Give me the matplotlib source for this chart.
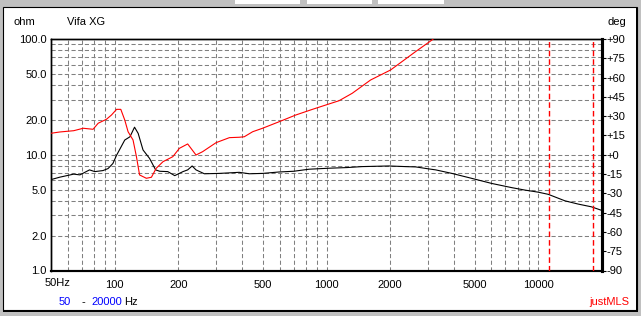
import matplotlib
matplotlib.use("Agg")
import matplotlib.pyplot as plt
from matplotlib.patches import Rectangle
from matplotlib.transforms import ScaledTranslation
from matplotlib.ticker import FixedLocator, NullFormatter, NullLocator

# impedance magnitude (black, left axis)
freq_z = [50, 55, 64, 68.5, 76, 80.5, 88, 93, 98, 102, 111.5, 118, 124, 129, 136,
          146, 156, 163, 178, 192, 210, 221, 232, 242, 265, 312, 387, 432, 500,
          598, 700, 827, 1028, 1250, 1470, 1970, 2360, 2640, 3035, 3280, 3910,
          4855, 6030, 7490, 8660, 10000, 11150, 13360, 15420, 17820, 20000]
ohm = [6.1, 6.4, 6.8, 6.7, 7.4, 7.15, 7.3, 7.6, 8.4, 9.9, 13.4, 14.3, 17.3, 15.3, 11.0,
       9.3, 7.4, 7.2, 7.15, 6.6, 7.15, 7.4, 8.0, 7.4, 6.85, 6.9, 7.05, 6.85, 6.9,
       7.1, 7.2, 7.5, 7.65, 7.75, 7.9, 8.0, 7.9, 7.85, 7.55, 7.4, 6.9,
       6.25, 5.65, 5.2, 4.95, 4.75, 4.55, 4.0, 3.75, 3.55, 3.3]

# phase (red, right axis)
freq_p = [50, 55, 64, 71, 79, 83.5, 91.4, 96.5, 102, 106.8, 111.5, 115.6, 122, 126.6,
          131, 141, 149, 157, 169, 188, 202, 221, 242, 260, 301, 348, 387, 409, 448,
          499, 598, 716, 858, 1028, 1146, 1323, 1614, 2007, 2630, 3184, 3400]
deg = [16.7, 17.7, 18.7, 20.6, 19.8, 24.5, 27.6, 30.9, 35.3, 35.3, 27.0, 17.9, 11.5, -1.5,
       -15.7, -18.3, -17.5, -10.5, -5.4, -1.5, 5.0, 8.4, -0.2, 2.4, 9.4, 13.3, 13.6, 14.0, 17.9,
       20.6, 25.7, 30.9, 35.3, 39.5, 42.0, 47.8, 58.1, 65.9, 80.1, 89.8, 95]

# red window markers
marker_freqs = [11270, 18150]

x_ticks = [100, 200, 500, 1000, 2000, 5000, 10000]
x_grid = [60, 70, 80, 90, 100, 200, 300, 400, 500, 600, 700, 800, 900,
          1000, 2000, 3000, 4000, 5000, 6000, 7000, 8000, 9000, 10000]
y_ticks = [1, 2, 5, 10, 20, 50, 100]
y_grid = [2, 3, 4, 5, 6, 7, 8, 9, 10, 20, 30, 40, 50, 60, 70, 80, 90]
deg_ticks = list(range(-90, 91, 15))

W, H = 641, 316
plt.rcParams['font.family'] = ['Liberation Sans', 'DejaVu Sans']
plt.rcParams['font.size'] = 8
plt.rcParams['lines.scale_dashes'] = False

fig = plt.figure(figsize=(W / 100, H / 100), dpi=100, facecolor='#c0c0c0')

def px(x, y):
    return x / W, 1 - y / H

def frame_rect(x, y, w, h, **kw):
    fig.add_artist(Rectangle(px(x, y + h), w / W, h / H, transform=fig.transFigure,
                             zorder=-5, **kw))

# window chrome: tabs at top and the white panel
for x0, x1 in [(235, 300), (307, 372), (378, 444)]:
    frame_rect(x0, 0, x1 - x0, 4, facecolor='white', edgecolor='none')
frame_rect(3, 7, 634, 303, facecolor='white', edgecolor='black', linewidth=0.8)
frame_rect(3, 309.5, 635, 2.2, facecolor='black', edgecolor='none')
frame_rect(636, 7.5, 2.2, 304, facecolor='black', edgecolor='none')

l, t, r, b = 51, 39, 602, 270.5
ax = fig.add_axes([l / W, 1 - b / H, (r - l) / W, (b - t) / H])
ax.set_facecolor('white')
ax.set_xscale('log')
ax.set_yscale('log')
ax.set_xlim(50, 20000)
ax.set_ylim(1, 100)

grid_kw = dict(color='#808080', linewidth=0.75, linestyle=(0, (3, 1.8)), zorder=1)
for g in x_grid:
    ax.axvline(g, **grid_kw)
for g in y_grid:
    ax.axhline(g, **grid_kw)

ax.plot(freq_z, ohm, color='black', linewidth=0.8, zorder=4)

ax.xaxis.set_major_locator(FixedLocator(x_ticks))
ax.xaxis.set_minor_locator(NullLocator())
ax.xaxis.set_minor_formatter(NullFormatter())
ax.set_xticklabels([str(v) for v in x_ticks])
ax.yaxis.set_major_locator(FixedLocator(y_ticks))
ax.yaxis.set_minor_locator(NullLocator())
ax.yaxis.set_minor_formatter(NullFormatter())
ax.set_yticklabels([f"{v:.1f}" for v in y_ticks])
ax.tick_params(axis='x', length=0, pad=7, labelsize=8)
ax.tick_params(axis='y', length=0, pad=3, labelsize=8)
ax.text(46.8, 1, "50Hz", ha='left', va='top', fontsize=8,
        transform=ax.transData + ScaledTranslation(0, -7 / 100, fig.dpi_scale_trans))

ax2 = ax.twinx()
ax2.set_ylim(-90, 90)
for m in marker_freqs:
    ax2.axvline(m, color='#ff0000', linewidth=1.0, linestyle=(0, (4, 2.2)), zorder=3)
ax2.plot(freq_p, deg, color='#ff0000', linewidth=0.8, zorder=5, clip_on=True)
ax2.set_yticks(deg_ticks)
ax2.set_yticklabels([f"{v:+d}" for v in deg_ticks])
ax2.tick_params(axis='y', length=3, width=0.8, pad=0.5, labelsize=8, direction='out')

for a in (ax, ax2):
    a.spines['left'].set_linewidth(1.0)
    a.spines['top'].set_linewidth(1.0)
    a.spines['bottom'].set_linewidth(1.5)
    a.spines['right'].set_linewidth(2.2)

fig.text(*px(14, 22), "ohm", ha='left', va='center', fontsize=8)
fig.text(*px(67, 22), "Vifa XG", ha='left', va='center', fontsize=8)
fig.text(*px(607, 22), "deg", ha='left', va='center', fontsize=8)
fig.text(*px(59, 302), "50", ha='left', va='center', fontsize=8, color='#0000ff')
fig.text(*px(82, 302), "-", ha='left', va='center', fontsize=8)
fig.text(*px(91, 302), "20000", ha='left', va='center', fontsize=8, color='#0000ff')
fig.text(*px(124, 302), "Hz", ha='left', va='center', fontsize=8)
fig.text(*px(629, 302), "justMLS", ha='right', va='center', fontsize=8, color='#ff0000')

fig.savefig("out.png", dpi=100, facecolor=fig.get_facecolor())
